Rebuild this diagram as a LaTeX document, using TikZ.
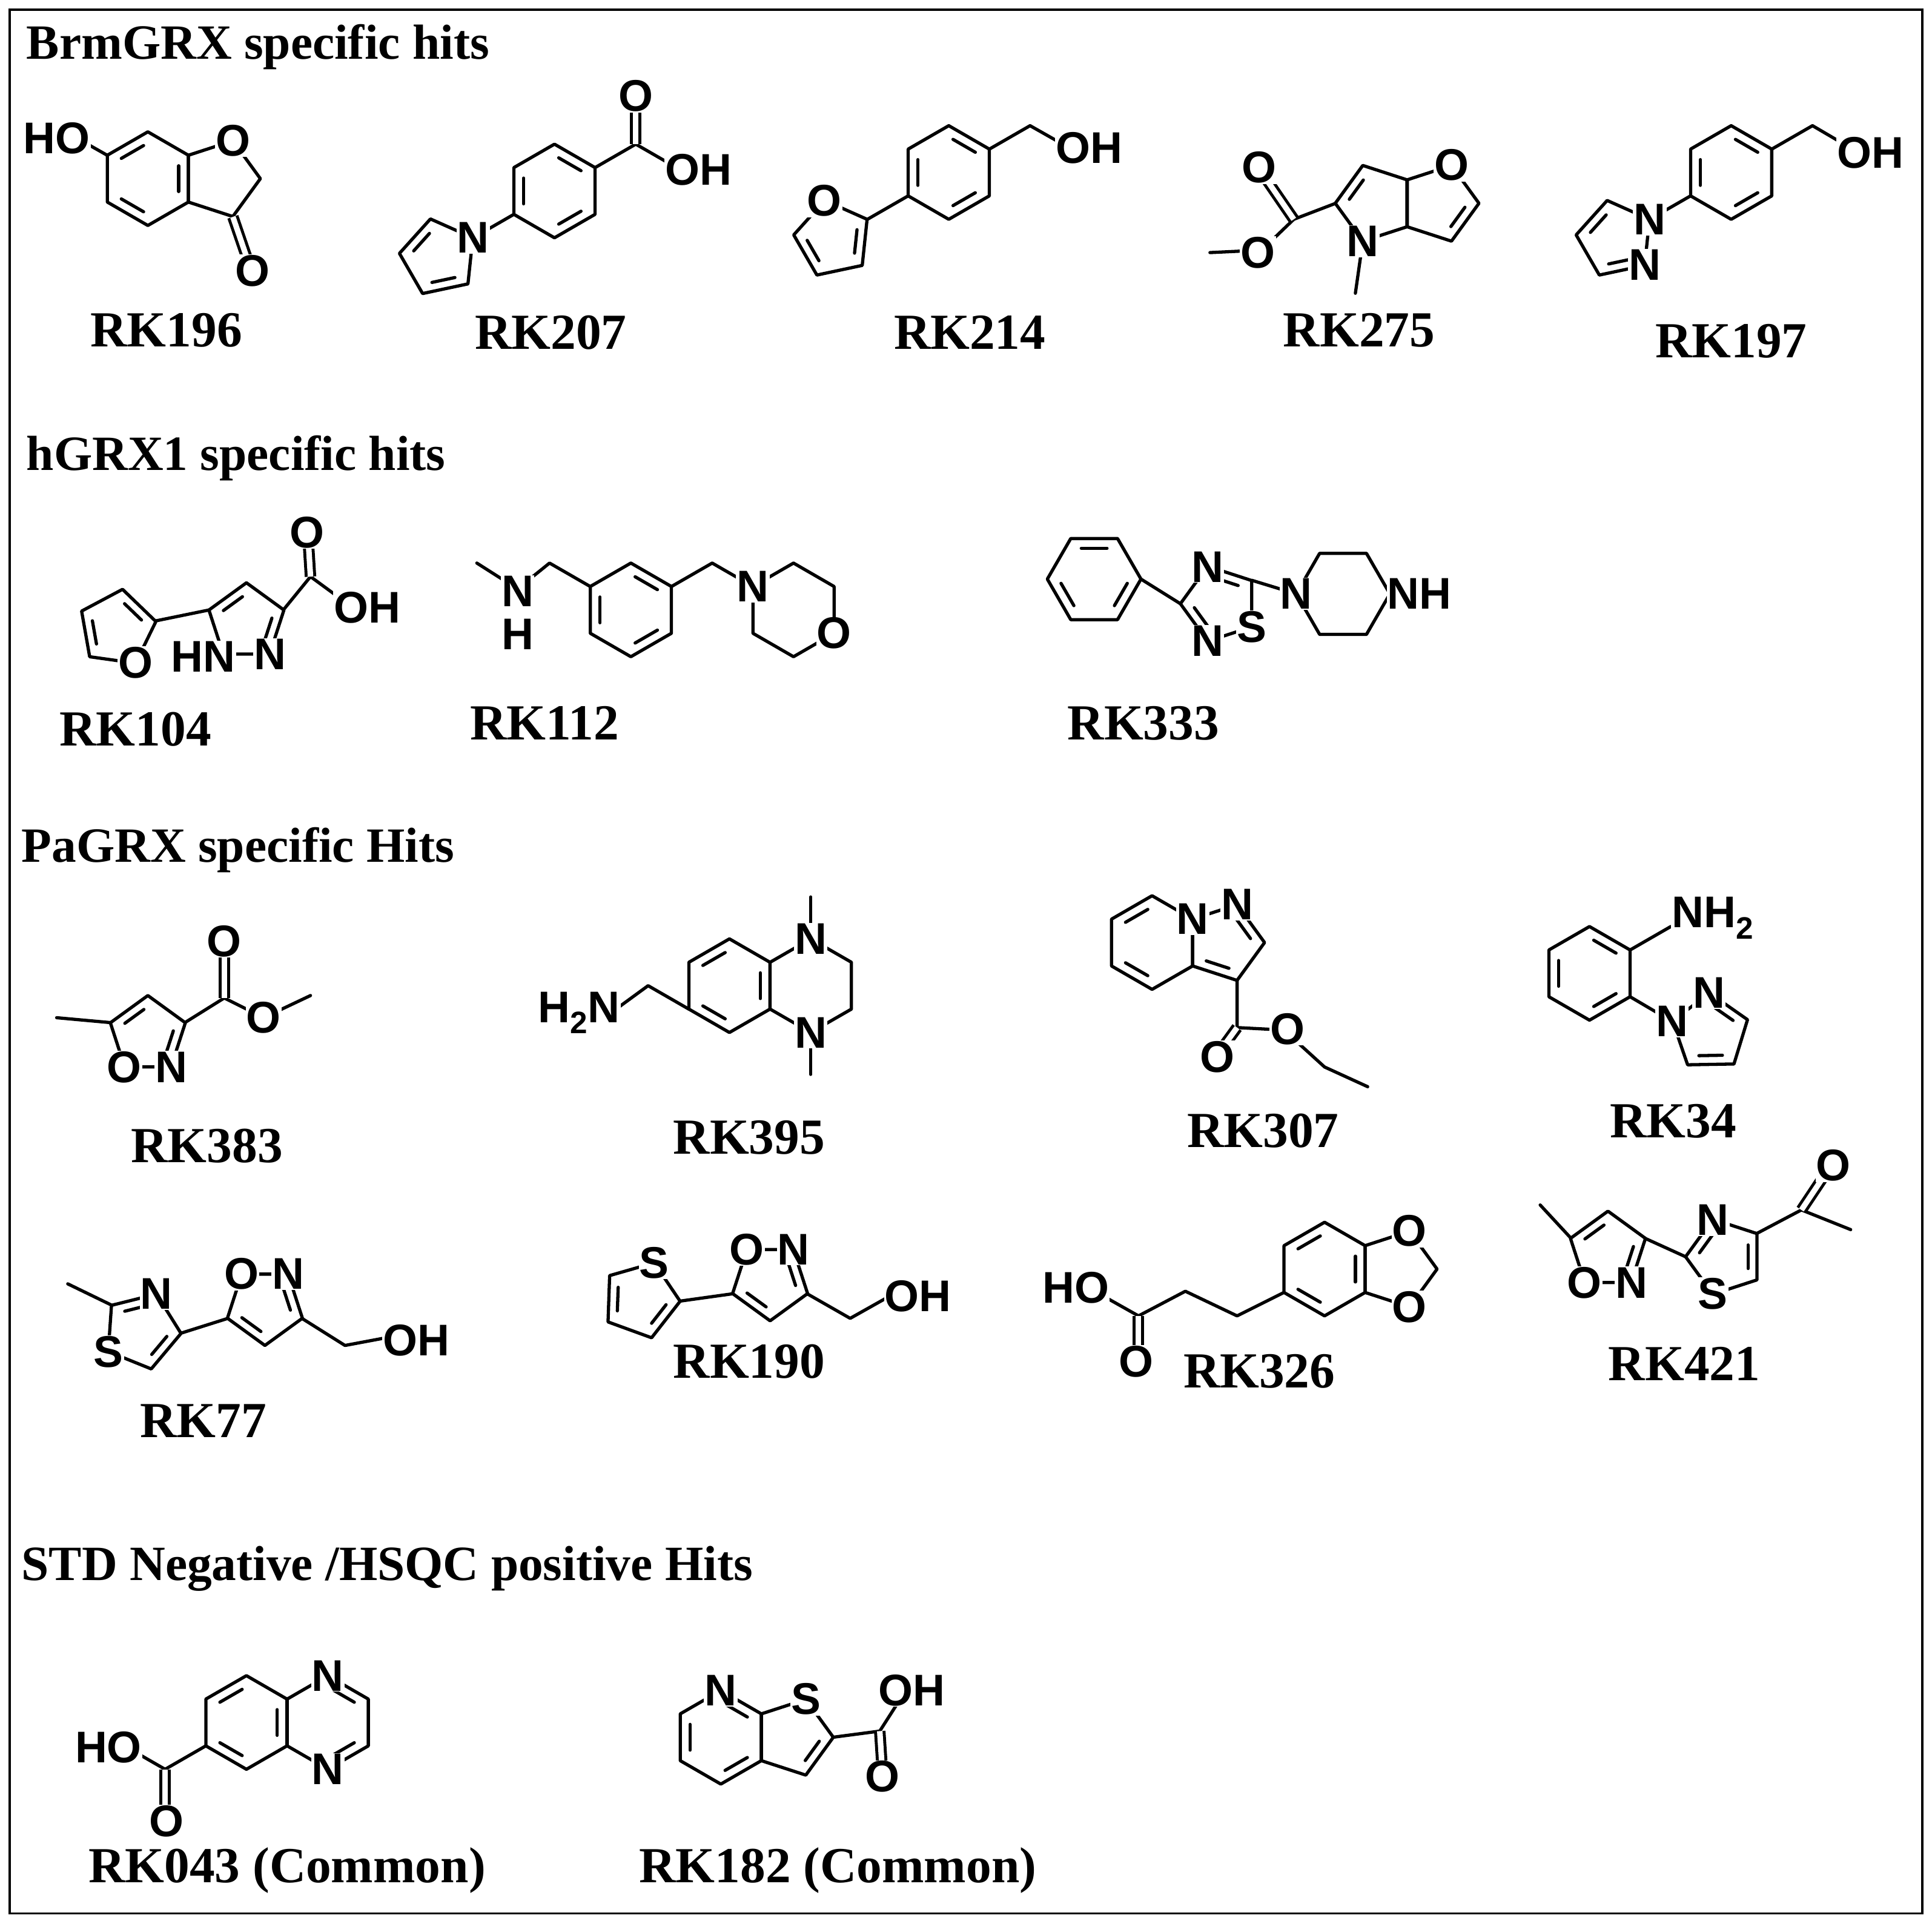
\documentclass[tikz,border=0pt]{standalone}
\usepackage{fontspec}
\setmainfont{Liberation Serif}
\newfontfamily\af{Liberation Sans}
\begin{document}
\tikzset{
 bond/.style={line width=2.6pt,line cap=round,line join=round},
 dbl/.style={line width=2.4pt,double,double distance=4.5pt},
 atom/.style={font=\af\bfseries\fontsize{36}{38}\selectfont,fill=white,inner sep=0.6pt},
 cname/.style={font=\bfseries\fontsize{41}{43}\selectfont},
 head/.style={font=\bfseries\fontsize{40}{44}\selectfont,anchor=west}
}
\newcommand\hexr[4]{\draw[bond] ({#1+#3*cos(#4)},{#2+#3*sin(#4)}) \foreach \k in {1,...,5}{ -- ({#1+#3*cos(#4+60*\k)},{#2+#3*sin(#4+60*\k)})} -- cycle;}
\newcommand\dblh[5]{\foreach \e in {#5}{\draw[bond,shorten <=4pt,shorten >=4pt] ({#1+0.76*#3*cos(#4+60*\e)},{#2+0.76*#3*sin(#4+60*\e)}) -- ({#1+0.76*#3*cos(#4+60*\e+60)},{#2+0.76*#3*sin(#4+60*\e+60)});}}
\newcommand\pentr[4]{\draw[bond] ({#1+#3*cos(#4)},{#2+#3*sin(#4)}) \foreach \k in {1,...,4}{ -- ({#1+#3*cos(#4+72*\k)},{#2+#3*sin(#4+72*\k)})} -- cycle;}
\newcommand\dblp[5]{\foreach \e in {#5}{\draw[bond,shorten <=4pt,shorten >=4pt] ({#1+0.72*#3*cos(#4+72*\e)},{#2+0.72*#3*sin(#4+72*\e)}) -- ({#1+0.72*#3*cos(#4+72*\e+72)},{#2+0.72*#3*sin(#4+72*\e+72)});}}
\begin{tikzpicture}[x=1pt,y=-1pt]
\useasboundingbox (0,0) rectangle (1568,1559);
\draw[line width=1.8pt] (8,8) rectangle (1560,1553);
\node[head] (h1) at (18,38) {BrmGRX specific hits};
\node[head] (h2) at (18,372) {hGRX1 specific hits};
\node[head] (h3) at (14,690) {PaGRX specific Hits};
\node[head] (h4) at (14,1273) {STD Negative /HSQC positive Hits};

% RK196
\hexr{120}{145}{38}{30}\dblh{120}{145}{38}{30}{1,3,5}
\pentr{179}{145}{32.3}{144}
\draw[bond] (87,126)--(57,109);
\draw[dbl] (189,176)--(202,214);
\node[atom] (a1) at (46,112) {HO};
\node[atom] (a2) at (189,114) {O};
\node[atom] (a3) at (205,220) {O};
\node[cname] (n1) at (135,268) {RK196};

% RK207
\hexr{450}{155}{38}{30}\dblh{450}{155}{38}{30}{0,2,4}
\pentr{356}{209}{32}{330}\dblp{356}{209}{32}{330}{1,3}
\draw[bond] (417,174)--(384,193);
\draw[bond] (483,136)--(516,117)--(549,136);
\draw[dbl] (516,117)--(516,82);
\node[atom] (b1) at (384,193) {N};
\node[atom] (b2) at (516,78) {O};
\node[atom] (b3) at (567,138) {OH};
\node[cname] (n2) at (447,270) {RK207};

% RK214
\hexr{770}{140}{38}{30}\dblh{770}{140}{38}{30}{0,2,4}
\pentr{676}{194}{32}{330}\dblp{676}{194}{32}{330}{0,2}
\draw[bond] (737,159)--(704,178);
\draw[bond] (803,121)--(836,102)--(866,119);
\node[atom] (c1) at (669,163) {O};
\node[atom] (c2) at (884,120) {OH};
\node[cname] (n3) at (787,270) {RK214};

% RK275
\pentr{1116}{165}{32.3}{36}\dblp{1116}{165}{32.3}{36}{2}
\pentr{1168}{165}{32.3}{144}\dblp{1168}{165}{32.3}{144}{3}
\draw[bond] (1106,196)--(1100,238);
\draw[bond] (1084,165)--(1050,178)--(1024,203)--(982,205);
\draw[dbl] (1050,178)--(1026,143);
\node[atom] (d1) at (1106,196) {N};
\node[atom] (d2) at (1178,134) {O};
\node[atom] (d3) at (1022,136) {O};
\node[atom] (d4) at (1021,205) {O};
\node[cname] (n4) at (1103,268) {RK275};

% RK197
\hexr{1405}{140}{38}{30}\dblh{1405}{140}{38}{30}{0,2,4}
\pentr{1311}{194}{32}{330}\dblp{1311}{194}{32}{330}{1,3}
\draw[bond] (1372,159)--(1339,178);
\draw[bond] (1438,121)--(1471,102)--(1500,119);
\node[atom] (e1) at (1339,178) {N};
\node[atom] (e2) at (1335,215) {N};
\node[atom] (e3) at (1518,124) {OH};
\node[cname] (n5) at (1405,277) {RK197};

% RK104
\pentr{200}{505}{32}{54}\dblp{200}{505}{32}{54}{2,4}
\pentr{95}{510}{32}{350}\dblp{95}{510}{32}{350}{2,4}
\draw[bond] (170,495)--(126,504);
\draw[bond] (230,495)--(252,468)--(282,490);
\draw[dbl] (252,468)--(250,436);
\node[atom] (f1) at (165,533) {HN};
\node[atom] (f2) at (219,531) {N};
\node[atom] (f3) at (110,538) {O};
\node[atom] (f4) at (249,432) {O};
\node[atom] (f5) at (298,493) {OH};
\node[cname] (n6) at (110,592) {RK104};

% RK112
\hexr{512}{495}{38}{30}\dblh{512}{495}{38}{30}{0,2,4}
\hexr{644}{495}{38}{30}
\draw[bond] (479,476)--(446,457)--(420,478)--(387,457);
\draw[bond] (545,476)--(578,457)--(611,476);
\node[atom] (g1) at (420,480) {N};
\node[atom] (g2) at (420,515) {H};
\node[atom] (g3) at (611,476) {N};
\node[atom] (g4) at (677,514) {O};
\node[cname] (n7) at (442,587) {RK112};

% RK333
\hexr{888}{470}{38}{0}\dblh{888}{470}{38}{0}{0,2,4}
\pentr{990}{490}{32}{180}\dblp{990}{490}{32}{180}{1,4}
\hexr{1090}{482}{38}{0}
\draw[bond] (926,470)--(958,490);
\draw[bond] (1016,471)--(1052,482);
\node[atom] (h1a) at (980,460) {N};
\node[atom] (h2a) at (1016,509) {S};
\node[atom] (h3a) at (980,520) {N};
\node[atom] (h4a) at (1052,482) {N};
\node[atom] (h5a) at (1152,482) {NH};
\node[cname] (n8) at (928,587) {RK333};

% RK383
\pentr{120}{840}{32}{54}\dblp{120}{840}{32}{54}{2,4}
\draw[bond] (90,830)--(46,826);
\draw[bond] (150,830)--(182,810)--(214,826)--(252,808);
\draw[dbl] (182,810)--(182,772);
\node[atom] (i1) at (101,866) {O};
\node[atom] (i2) at (139,866) {N};
\node[atom] (i3) at (182,764) {O};
\node[atom] (i4) at (214,826) {O};
\node[cname] (n9) at (168,930) {RK383};

% RK395
\hexr{592}{800}{38}{30}\dblh{592}{800}{38}{30}{1,3,5}
\draw[bond] (625,781)--(658,762)--(691,781)--(691,819)--(658,838)--(625,819);
\draw[bond] (658,762)--(658,728);
\draw[bond] (658,838)--(658,872);
\draw[bond] (559,819)--(526,800)--(500,819);
\node[atom] (j1) at (658,762) {N};
\node[atom] (j2) at (658,838) {N};
\node[atom] (j3) at (470,822) {H\textsubscript{2}N};
\node[cname] (n10) at (608,923) {RK395};

% RK307
\hexr{935}{765}{38}{30}\dblh{935}{765}{38}{30}{1,3}
\pentr{994}{765}{32.3}{144}\dblp{994}{765}{32.3}{144}{2,4}
\draw[bond] (1004,796)--(1004,834)--(1042,836)--(1075,866)--(1110,882);
\draw[dbl] (1004,834)--(988,856);
\node[atom] (k1) at (968,746) {N};
\node[atom] (k2) at (1004,734) {N};
\node[atom] (k3) at (988,858) {O};
\node[atom] (k4) at (1045,835) {O};
\node[cname] (n11) at (1025,918) {RK307};

% RK34
\hexr{1290}{790}{38}{30}\dblh{1290}{790}{38}{30}{0,2,4}
\pentr{1388}{838}{32}{197}\dblp{1388}{838}{32}{197}{1,3}
\draw[bond] (1323,771)--(1356,752);
\draw[bond] (1323,809)--(1357,829);
\node[atom] (l1) at (1390,745) {NH\textsubscript{2}};
\node[atom] (l2) at (1357,829) {N};
\node[atom] (l3) at (1387,806) {N};
\node[cname] (n12) at (1358,910) {RK34};

% RK77
\pentr{115}{1080}{32}{220}\dblp{115}{1080}{32}{220}{0,2}
\pentr{215}{1060}{32}{234}\dblp{215}{1060}{32}{234}{1,3}
\draw[bond] (90,1059)--(55,1042);
\draw[bond] (147,1082)--(185,1070);
\draw[bond] (245,1070)--(280,1092)--(312,1086);
\node[atom] (m1) at (127,1050) {N};
\node[atom] (m2) at (88,1097) {S};
\node[atom] (m3) at (196,1034) {O};
\node[atom] (m4) at (234,1034) {N};
\node[atom] (m5) at (338,1088) {OH};
\node[cname] (n13) at (165,1153) {RK77};

% RK190
\pentr{520}{1055}{32}{290}\dblp{520}{1055}{32}{290}{1,3}
\pentr{625}{1040}{32}{234}\dblp{625}{1040}{32}{234}{1,3}
\draw[bond] (552,1056)--(595,1050);
\draw[bond] (655,1050)--(690,1070)--(722,1052);
\node[atom] (o1) at (531,1025) {S};
\node[atom] (o2) at (606,1014) {O};
\node[atom] (o3) at (644,1014) {N};
\node[atom] (o4) at (745,1052) {OH};
\node[cname] (n14) at (608,1105) {RK190};

% RK326
\hexr{1075}{1030}{38}{30}\dblh{1075}{1030}{38}{30}{1,3,5}
\pentr{1134}{1030}{32.3}{144}
\draw[bond] (1042,1049)--(1004,1068)--(962,1048)--(924,1068)--(892,1050);
\draw[dbl] (924,1068)--(924,1098);
\node[atom] (p1) at (1144,999) {O};
\node[atom] (p2) at (1144,1061) {O};
\node[atom] (p3) at (873,1045) {HO};
\node[atom] (p4) at (922,1105) {O};
\node[cname] (n15) at (1022,1113) {RK326};

% RK421
\pentr{1305}{1015}{32}{54}\dblp{1305}{1015}{32}{54}{2,4}
\pentr{1400}{1020}{32}{180}\dblp{1400}{1020}{32}{180}{0,2}
\draw[bond] (1275,1005)--(1250,978);
\draw[bond] (1335,1005)--(1368,1020);
\draw[bond] (1426,1001)--(1462,982)--(1502,998);
\draw[dbl] (1462,982)--(1480,955);
\node[atom] (q1) at (1286,1041) {O};
\node[atom] (q2) at (1324,1041) {N};
\node[atom] (q3) at (1390,990) {N};
\node[atom] (q4) at (1390,1050) {S};
\node[atom] (q5) at (1488,946) {O};
\node[cname] (n16) at (1367,1107) {RK421};

% RK043
\hexr{200}{1398}{38}{30}\dblh{200}{1398}{38}{30}{1,3,5}
\hexr{266}{1398}{38}{30}\dblh{266}{1398}{38}{30}{0,4}
\draw[bond] (167,1417)--(134,1436)--(101,1417);
\draw[dbl] (134,1436)--(134,1472);
\node[atom] (r1) at (266,1360) {N};
\node[atom] (r2) at (266,1436) {N};
\node[atom] (r3) at (88,1418) {HO};
\node[atom] (r4) at (135,1478) {O};
\node[cname] (n17) at (233,1518) {RK043 (Common)};

% RK182
\hexr{585}{1410}{38}{30}\dblh{585}{1410}{38}{30}{0,2,4}
\pentr{644}{1410}{32.3}{144}\dblp{644}{1410}{32.3}{144}{3}
\draw[bond] (676,1410)--(714,1405)--(730,1380);
\draw[dbl] (714,1405)--(716,1436);
\node[atom] (s1) at (585,1372) {N};
\node[atom] (s2) at (654,1379) {S};
\node[atom] (s3) at (740,1372) {OH};
\node[atom] (s4) at (716,1442) {O};
\node[cname] (n18) at (680,1518) {RK182 (Common)};
\end{tikzpicture}
\end{document}
